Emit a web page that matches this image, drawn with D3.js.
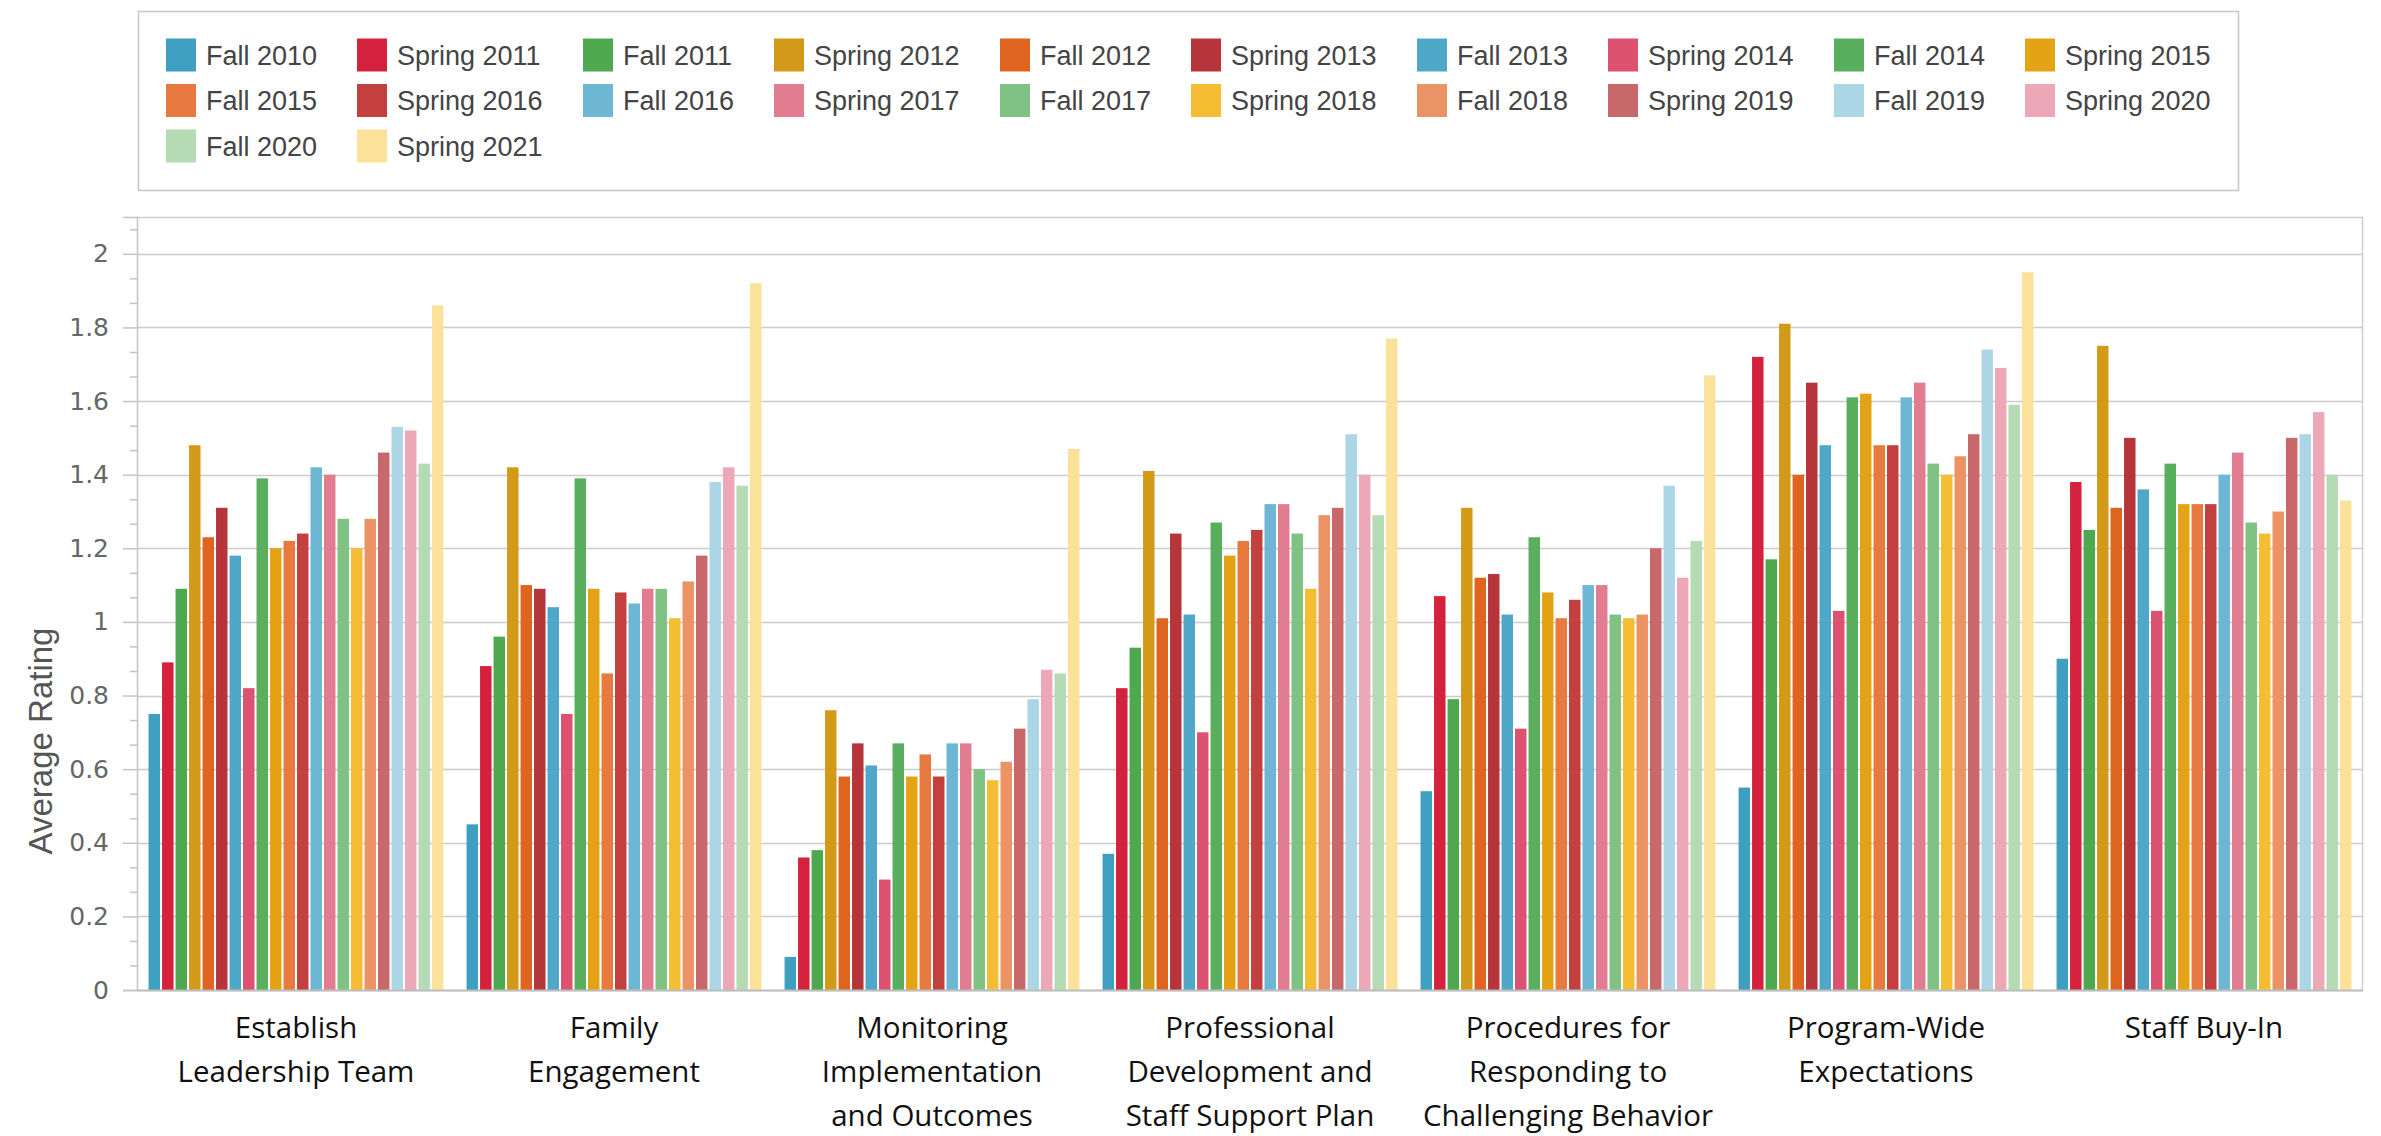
<!DOCTYPE html>
<html>
<head>
<meta charset="utf-8">
<script src="https://cdn.jsdelivr.net/npm/d3@7"></script>
<style>
    body { margin: 0; background: #fff; }
</style>
</head>
<body>
<div id="chart"></div>
<script>
// Survey waves (legend order = bar order inside each group)
const seriesNames = [
    'Fall 2010', 'Spring 2011', 'Fall 2011', 'Spring 2012', 'Fall 2012',
    'Spring 2013', 'Fall 2013', 'Spring 2014', 'Fall 2014', 'Spring 2015',
    'Fall 2015', 'Spring 2016', 'Fall 2016', 'Spring 2017', 'Fall 2017',
    'Spring 2018', 'Fall 2018', 'Spring 2019', 'Fall 2019', 'Spring 2020',
    'Fall 2020', 'Spring 2021'
];

const seriesColors = [
    '#3f9fc1', '#d4213d', '#4ea84f', '#d29a18', '#de6420',
    '#b5353a', '#4fa8c8', '#dc5270', '#5aaf5e', '#e4a314',
    '#e8793f', '#c3403f', '#6db7d4', '#e27d91', '#80c283',
    '#f5bd33', '#eb9365', '#c9686a', '#acd6e5', '#eda8b7',
    '#b4dbb4', '#fbe19a'
];

// Category tick labels, already split into lines
const categoryLabels = [
    ['Establish', 'Leadership Team'],
    ['Family', 'Engagement'],
    ['Monitoring', 'Implementation', 'and Outcomes'],
    ['Professional', 'Development and', 'Staff Support Plan'],
    ['Procedures for', 'Responding to', 'Challenging Behavior'],
    ['Program-Wide', 'Expectations'],
    ['Staff Buy-In']
];

// Average rating per wave, one array per category
const establishLeadership = [0.75, 0.89, 1.09, 1.48, 1.23, 1.31, 1.18, 0.82, 1.39, 1.20, 1.22, 1.24, 1.42, 1.40, 1.28, 1.20, 1.28, 1.46, 1.53, 1.52, 1.43, 1.86];
const familyEngagement    = [0.45, 0.88, 0.96, 1.42, 1.10, 1.09, 1.04, 0.75, 1.39, 1.09, 0.86, 1.08, 1.05, 1.09, 1.09, 1.01, 1.11, 1.18, 1.38, 1.42, 1.37, 1.92];
const monitoring          = [0.09, 0.36, 0.38, 0.76, 0.58, 0.67, 0.61, 0.30, 0.67, 0.58, 0.64, 0.58, 0.67, 0.67, 0.60, 0.57, 0.62, 0.71, 0.79, 0.87, 0.86, 1.47];
const professionalDev     = [0.37, 0.82, 0.93, 1.41, 1.01, 1.24, 1.02, 0.70, 1.27, 1.18, 1.22, 1.25, 1.32, 1.32, 1.24, 1.09, 1.29, 1.31, 1.51, 1.40, 1.29, 1.77];
const procedures          = [0.54, 1.07, 0.79, 1.31, 1.12, 1.13, 1.02, 0.71, 1.23, 1.08, 1.01, 1.06, 1.10, 1.10, 1.02, 1.01, 1.02, 1.20, 1.37, 1.12, 1.22, 1.67];
const programWide         = [0.55, 1.72, 1.17, 1.81, 1.40, 1.65, 1.48, 1.03, 1.61, 1.62, 1.48, 1.48, 1.61, 1.65, 1.43, 1.40, 1.45, 1.51, 1.74, 1.69, 1.59, 1.95];
const staffBuyIn          = [0.90, 1.38, 1.25, 1.75, 1.31, 1.50, 1.36, 1.03, 1.43, 1.32, 1.32, 1.32, 1.40, 1.46, 1.27, 1.24, 1.30, 1.50, 1.51, 1.57, 1.40, 1.33];

const categoryValues = [
    establishLeadership, familyEngagement, monitoring, professionalDev,
    procedures, programWide, staffBuyIn
];

const yTickValues = [0, 0.2, 0.4, 0.6, 0.8, 1, 1.2, 1.4, 1.6, 1.8, 2];

function createRatingChart(container) {
    container.selectAll('*').remove();

    const totalWidth = 2381;
    const totalHeight = 1136;
    const margin = { top: 217, right: 18, bottom: 146, left: 137 };
    const width = totalWidth - margin.left - margin.right;
    const height = totalHeight - margin.top - margin.bottom;

    const svg = container.append('svg')
        .attr('width', totalWidth)
        .attr('height', totalHeight)
        .style('display', 'block');

    // Legend box
    const legend = svg.append('g');
    legend.append('rect')
        .attr('x', 138.5)
        .attr('y', 11.5)
        .attr('width', 2100)
        .attr('height', 179)
        .attr('fill', '#fff')
        .attr('stroke', '#c6c6c6')
        .attr('stroke-width', 1.5);

    // 10 items per row; "Fall" columns are narrower than "Spring" ones
    const items = legend.selectAll('.legend-item')
        .data(seriesNames)
        .enter()
        .append('g')
        .attr('class', 'legend-item')
        .attr('transform', (d, i) => {
            const col = i % 10;
            const row = Math.floor(i / 10);
            const x = 166 + Math.floor(col / 2) * 417 + (col % 2) * 191;
            const y = 55 + row * 45.5;
            return `translate(${x},${y})`;
        });

    items.append('rect')
        .attr('x', 0)
        .attr('y', -16.5)
        .attr('width', 30)
        .attr('height', 33)
        .attr('fill', (d, i) => seriesColors[i]);

    items.append('text')
        .attr('x', 40)
        .attr('y', 9.5)
        .style('font-family', '"Liberation Sans", Arial, sans-serif')
        .style('font-size', '27px')
        .style('fill', '#444')
        .text(d => d);

    const g = svg.append('g')
        .attr('transform', `translate(${margin.left},${margin.top})`);

    const x0 = d3.scaleBand()
        .domain(d3.range(categoryValues.length))
        .range([0, width])
        .paddingInner(0.06)
        .paddingOuter(0.03);

    const x1 = d3.scaleBand()
        .domain(d3.range(seriesNames.length))
        .range([0, x0.bandwidth()])
        .padding(0.15);

    const yScale = d3.scaleLinear()
        .domain([0, 2.1])
        .range([height, 0]);

    // Grid
    g.append('g')
        .selectAll('line')
        .data(yTickValues)
        .enter()
        .append('line')
        .attr('x1', 0)
        .attr('x2', width)
        .attr('y1', d => Math.round(yScale(d)) + 0.5)
        .attr('y2', d => Math.round(yScale(d)) + 0.5)
        .attr('stroke', '#cccccc')
        .attr('stroke-width', 1.5);

    // Frame (top and right)
    g.append('path')
        .attr('d', `M0,0.5H${width - 0.5}V${height}`)
        .attr('fill', 'none')
        .attr('stroke', '#cfcfcf')
        .attr('stroke-width', 1.5);

    // Bars
    const groups = g.selectAll('.group')
        .data(categoryValues)
        .enter()
        .append('g')
        .attr('class', 'group')
        .attr('transform', (d, i) => `translate(${x0(i)},0)`);

    groups.selectAll('rect')
        .data(d => d)
        .enter()
        .append('rect')
        .attr('x', (d, i) => x1(i))
        .attr('y', d => yScale(d))
        .attr('width', x1.bandwidth())
        .attr('height', d => height - yScale(d))
        .attr('fill', (d, i) => seriesColors[i]);

    // Minor ticks
    const minorStep = 0.2 / 3;
    const minorTicks = d3.range(0, 2.1, minorStep).filter((v, i) => i % 3 !== 0);
    g.append('g')
        .call(d3.axisLeft(yScale)
            .tickValues(minorTicks)
            .tickSize(7)
            .tickFormat(''))
        .call(a => a.select('.domain').remove())
        .selectAll('line')
        .attr('stroke', '#c4c4c4')
        .attr('stroke-width', 1.5);

    // Y axis
    const yAxis = g.append('g')
        .call(d3.axisLeft(yScale)
            .tickValues(yTickValues)
            .tickSize(14)
            .tickPadding(14)
            .tickFormat(d3.format('~g')));
    yAxis.select('.domain')
        .attr('stroke', '#c4c4c4')
        .attr('stroke-width', 1.5);
    yAxis.selectAll('.tick line')
        .attr('stroke', '#c4c4c4')
        .attr('stroke-width', 1.5);
    yAxis.selectAll('.tick text')
        .style('font-family', '"DejaVu Sans", Verdana, sans-serif')
        .style('font-size', '25px')
        .style('fill', '#666');

    // Baseline
    g.append('line')
        .attr('x1', 0)
        .attr('x2', width)
        .attr('y1', height + 0.5)
        .attr('y2', height + 0.5)
        .attr('stroke', '#bdbdbd')
        .attr('stroke-width', 2);

    // Category labels
    const labels = g.selectAll('.cat-label')
        .data(categoryLabels)
        .enter()
        .append('text')
        .attr('class', 'cat-label')
        .attr('text-anchor', 'middle')
        .attr('transform', (d, i) => `translate(${x0(i) + x0.bandwidth() / 2},${height + 48})`)
        .style('font-family', '"Open Sans", sans-serif')
        .style('font-size', '29.5px')
        .style('fill', '#111');

    labels.selectAll('tspan')
        .data(d => d)
        .enter()
        .append('tspan')
        .attr('x', 0)
        .attr('y', (d, i) => i * 44)
        .text(d => d);

    // Y axis title
    svg.append('text')
        .attr('transform', 'translate(52,741) rotate(-90)')
        .attr('text-anchor', 'middle')
        .style('font-family', '"Liberation Sans", Arial, sans-serif')
        .style('font-size', '33px')
        .style('fill', '#555')
        .text('Average Rating');
}

createRatingChart(d3.select('#chart'));
</script>
</body>
</html>
